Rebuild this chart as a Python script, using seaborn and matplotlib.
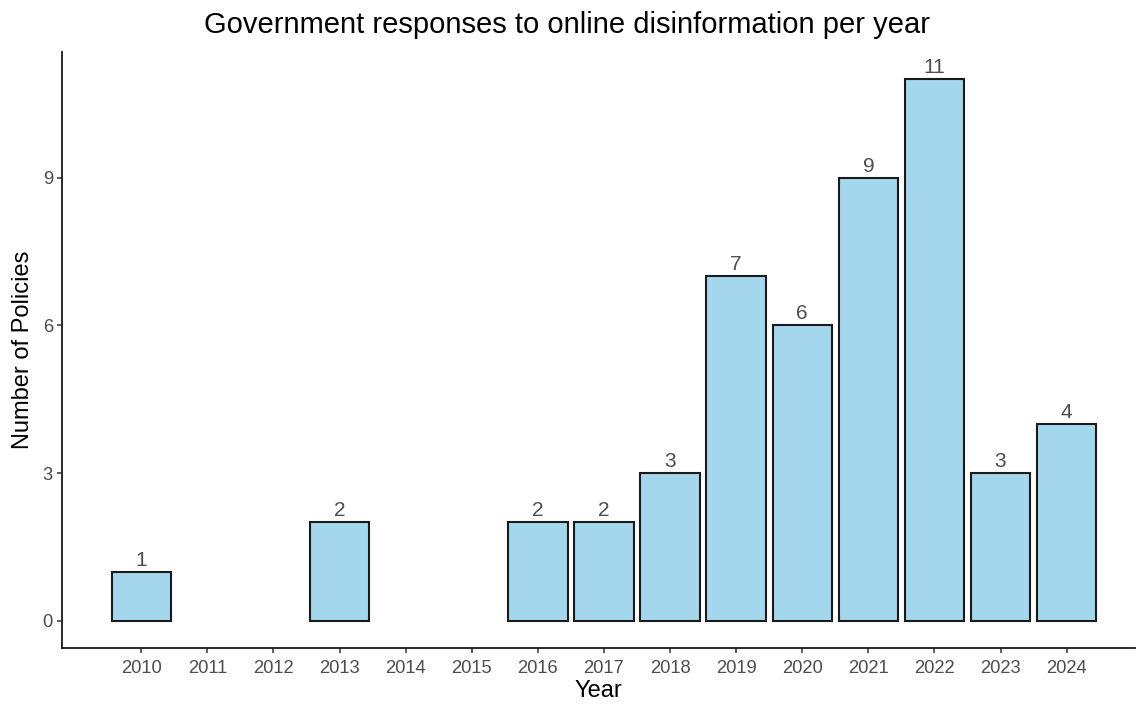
import matplotlib
matplotlib.use("Agg")
import matplotlib.pyplot as plt
import seaborn as sns
import pandas as pd

years = [2010, 2013, 2016, 2017, 2018, 2019, 2020, 2021, 2022, 2023, 2024]
counts = [1, 2, 2, 2, 3, 7, 6, 9, 11, 3, 4]
tick_years = list(range(2010, 2025))
y_ticks = [0, 3, 6, 9]

sns.set_theme(style="ticks")
plt.rcParams['font.family'] = ['Liberation Sans', 'DejaVu Sans']

df = pd.DataFrame({"Year": years, "Count": counts})

fig = plt.figure(figsize=(11.37, 7.04), dpi=100)
ax = fig.add_axes([0.0545, 0.0795, 0.9435, 0.8465])

sns.barplot(data=df, x="Year", y="Count", native_scale=True, width=0.9,
            color="#A4D6EE", saturation=1, edgecolor="#1a1a1a", linewidth=1.5, ax=ax)

for c in ax.containers:
    ax.bar_label(c, labels=[str(v) for v in counts], padding=1.5, fontsize=15, color="#4D4D4D")

ax.set_xlim(2008.8, 2025.03)
ax.set_ylim(-0.55, 11.55)
ax.set_xticks(tick_years)
ax.set_xticklabels([str(y) for y in tick_years])
ax.set_yticks(y_ticks)
ax.tick_params(axis='both', labelsize=13.2, labelcolor="#4D4D4D", color="#333333", length=3.5, width=1.1, pad=3)
ax.tick_params(axis='x', pad=5)
ax.set_xlabel("Year", fontsize=17, color="black", labelpad=2)
ax.set_ylabel("Number of Policies", fontsize=17, color="black", labelpad=6)
fig.text(567 / 1137, 1 - 25 / 704, "Government responses to online disinformation per year",
         fontsize=21, color="black", ha="center", va="center")
for s in ["top", "right"]:
    ax.spines[s].set_visible(False)
for s in ["left", "bottom"]:
    ax.spines[s].set_color("#1a1a1a")
    ax.spines[s].set_linewidth(1.3)

fig.savefig("out.png", dpi=100)
